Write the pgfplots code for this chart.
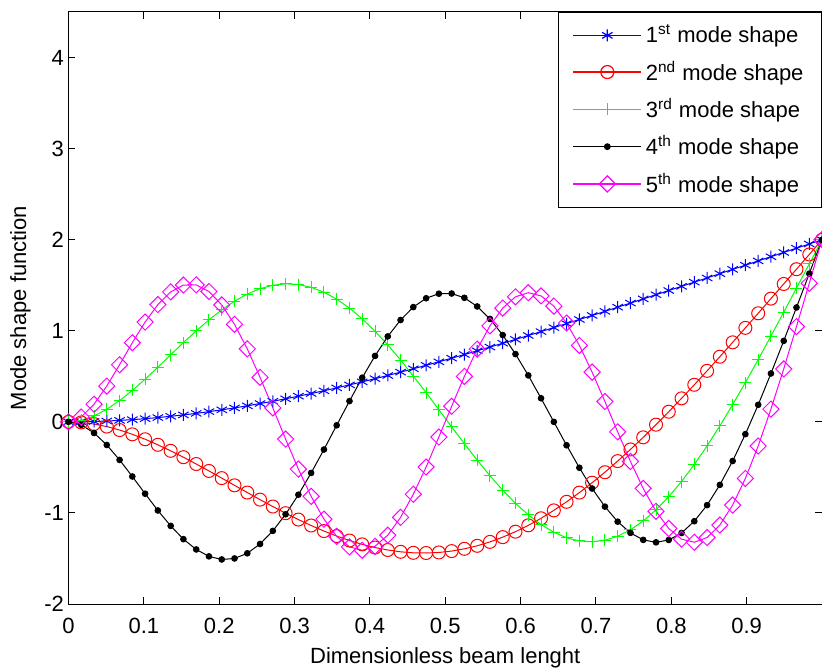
\documentclass[border=0pt]{standalone}
\usepackage{fontspec}
\setmainfont{Liberation Sans}
\usepackage{pgfplots}
\usepackage{pgfplotstable}
\pgfplotsset{compat=1.18}
\definecolor{mblue}{rgb}{0,0,1}
\definecolor{mred}{rgb}{1,0,0}
\definecolor{mgreen}{rgb}{0,1,0}
\definecolor{mmag}{rgb}{1,0,1}

\pgfplotstableread{
x m1 m2 m3 m4 m5
0 0 0 0 0 0
0.0169 0.001 -0.006 0.017 -0.033 0.053
0.0339 0.004 -0.024 0.065 -0.122 0.193
0.0508 0.009 -0.052 0.138 -0.254 0.393
0.0678 0.016 -0.090 0.233 -0.418 0.627
0.0847 0.024 -0.137 0.345 -0.600 0.869
0.1017 0.035 -0.191 0.469 -0.789 1.096
0.1186 0.047 -0.252 0.600 -0.973 1.288
0.1356 0.061 -0.318 0.735 -1.142 1.427
0.1525 0.076 -0.388 0.870 -1.288 1.502
0.1695 0.093 -0.463 0.999 -1.401 1.504
0.1864 0.112 -0.539 1.120 -1.477 1.431
0.2034 0.132 -0.618 1.230 -1.511 1.284
0.2203 0.153 -0.697 1.325 -1.500 1.071
0.2373 0.176 -0.776 1.403 -1.443 0.801
0.2542 0.201 -0.854 1.462 -1.341 0.489
0.2712 0.226 -0.930 1.500 -1.197 0.153
0.2881 0.253 -1.003 1.515 -1.015 -0.189
0.3051 0.282 -1.073 1.508 -0.800 -0.519
0.3220 0.311 -1.138 1.477 -0.561 -0.818
0.3390 0.341 -1.199 1.423 -0.304 -1.068
0.3559 0.373 -1.254 1.347 -0.038 -1.257
0.3729 0.406 -1.303 1.249 0.228 -1.373
0.3898 0.439 -1.345 1.131 0.485 -1.410
0.4068 0.474 -1.380 0.995 0.724 -1.366
0.4237 0.509 -1.407 0.844 0.938 -1.244
0.4407 0.546 -1.427 0.679 1.118 -1.049
0.4576 0.583 -1.438 0.503 1.260 -0.795
0.4746 0.621 -1.440 0.321 1.357 -0.496
0.4915 0.659 -1.434 0.133 1.407 -0.167
0.5085 0.699 -1.419 -0.055 1.409 0.171
0.5254 0.739 -1.394 -0.240 1.362 0.499
0.5424 0.780 -1.361 -0.420 1.267 0.799
0.5593 0.821 -1.318 -0.591 1.130 1.054
0.5763 0.863 -1.266 -0.751 0.953 1.249
0.5932 0.905 -1.206 -0.895 0.744 1.373
0.6102 0.948 -1.136 -1.021 0.510 1.418
0.6271 0.991 -1.059 -1.128 0.259 1.383
0.6441 1.035 -0.972 -1.212 0.000 1.270
0.6610 1.079 -0.878 -1.273 -0.257 1.085
0.6780 1.124 -0.777 -1.308 -0.504 0.839
0.6949 1.168 -0.668 -1.317 -0.732 0.546
0.7119 1.213 -0.553 -1.300 -0.931 0.223
0.7288 1.259 -0.431 -1.256 -1.096 -0.110
0.7458 1.304 -0.303 -1.185 -1.219 -0.435
0.7627 1.350 -0.170 -1.088 -1.296 -0.731
0.7797 1.396 -0.031 -0.966 -1.323 -0.982
0.7966 1.442 0.111 -0.821 -1.297 -1.171
0.8136 1.488 0.258 -0.655 -1.220 -1.288
0.8305 1.534 0.407 -0.468 -1.091 -1.322
0.8475 1.580 0.560 -0.264 -0.914 -1.270
0.8644 1.627 0.715 -0.044 -0.692 -1.133
0.8814 1.674 0.873 0.189 -0.430 -0.914
0.8983 1.720 1.032 0.432 -0.135 -0.621
0.9153 1.767 1.192 0.684 0.187 -0.265
0.9322 1.813 1.353 0.942 0.531 0.140
0.9492 1.860 1.514 1.204 0.889 0.581
0.9661 1.907 1.676 1.468 1.256 1.046
0.9831 1.953 1.838 1.734 1.627 1.521
1 2 2 2 2 2
}\modes

\begin{document}
\begin{tikzpicture}
\begin{axis}[
  scale only axis, width=376.75pt, height=296pt,
  xmin=0, xmax=1, ymin=-2, ymax=4.5,
  clip=false,
  xtick={0,0.1,0.2,0.3,0.4,0.5,0.6,0.7,0.8,0.9,1},
  xticklabels={0,0.1,0.2,0.3,0.4,0.5,0.6,0.7,0.8,0.9,{}},
  ytick={-2,-1,0,1,2,3,4},
  yticklabels={-2,-1,0,1,2,3,4},
  tick align=inside,
  major tick length=3.5pt,
  tick style={black, line width=0.5pt},
  axis line style={black, line width=0.5pt},
  tick label style={font=\fontsize{11}{13}\selectfont},
  xticklabel style={yshift=-3.3pt},
  yticklabel style={xshift=1.2pt},
  label style={font=\fontsize{11}{13}\selectfont},
  xlabel={Dimensionless beam lenght},
  ylabel={Mode shape function},
  xlabel style={at={(axis description cs:0.5,-0.0997)}, anchor=base},
  ylabel style={at={(axis description cs:-0.0637,0.5)}, anchor=center},
  legend style={at={(rel axis cs:1,1)}, anchor=north east, draw=black,
    line width=0.5pt, fill=white, inner xsep=7pt, inner ysep=4.2pt,
    row sep=3.6pt, font=\fontsize{11}{13}\selectfont},
  legend cell align=left,
  legend image code/.code={\draw[line width=0.6pt, mark repeat=2,mark phase=2] plot coordinates {(0pt,0pt) (17pt,0pt) (34pt,0pt)};},
  every axis plot/.append style={line width=0.5pt},
]
\addplot[color=mblue, mark=asterisk, mark size=3pt, mark options={solid}] table[x=x, y=m1] {\modes};
\addlegendentry{1\textsuperscript{st} mode shape}
\addplot[color=mred, mark=o, mark size=3.25pt, mark options={solid}] table[x=x, y=m2] {\modes};
\addlegendentry{2\textsuperscript{nd} mode shape}
\addplot[color=mgreen, mark=+, mark size=3pt, mark options={solid}] table[x=x, y=m3] {\modes};
\addlegendentry{3\textsuperscript{rd} mode shape}
\addplot[color=black, mark=*, mark size=1.4pt, mark options={solid}] table[x=x, y=m4] {\modes};
\addlegendentry{4\textsuperscript{th} mode shape}
\addplot[color=mmag, mark=square, mark size=2.85pt, mark options={solid, rotate=45}] table[x=x, y=m5] {\modes};
\addlegendentry{5\textsuperscript{th} mode shape}
\coordinate (SW) at (rel axis cs:0,0);
\coordinate (NE) at (rel axis cs:1,1);
\end{axis}
\pgfresetboundingbox
\path[use as bounding box] ([xshift=-34.25pt,yshift=-32.5pt]SW) rectangle ([yshift=6pt]NE);
\end{tikzpicture}
\end{document}
